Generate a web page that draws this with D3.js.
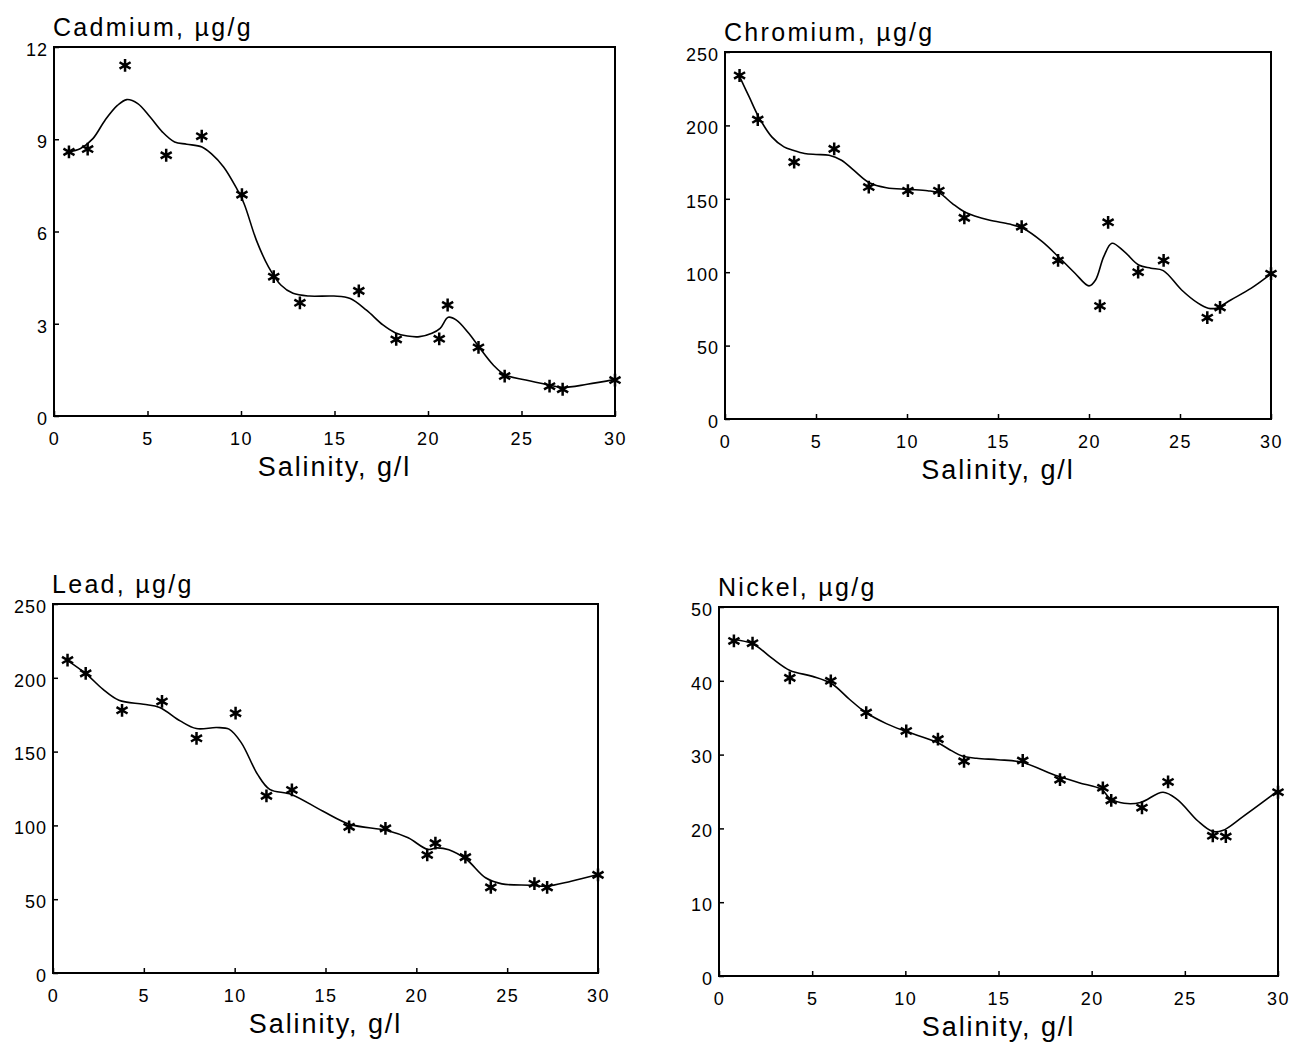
<!DOCTYPE html>
<html>
<head>
<meta charset="utf-8">
<script src="https://cdn.jsdelivr.net/npm/d3@7"></script>
<style>
  html, body { margin: 0; padding: 0; background: #fff; }
  svg { display: block; }
</style>
</head>
<body>
<svg id="chart" width="1292" height="1047"></svg>
<script>
// salinity of the sampling stations (g/l), shared by all four panels
var salinity = [0.8, 1.8, 3.8, 6.0, 7.9, 10.05, 11.75, 13.15, 16.3, 18.3, 20.6, 21.05, 22.7, 24.1, 26.5, 27.2, 30.0];

// measured concentrations (µg/g)
var cadmium  = [8.59, 8.68, 11.40, 8.48, 9.10, 7.20, 4.53, 3.68, 4.07, 2.49, 2.51, 3.61, 2.23, 1.30, 0.97, 0.87, 1.17];
var chromium = [234, 204, 175, 184, 158, 155.5, 155.5, 137, 131, 108, 77, 134, 100, 108, 69, 76, 99];
var lead     = [212, 203, 178, 184, 159, 176, 120, 124, 99, 98, 80, 88, 78.5, 58, 60.5, 58, 66.5];
var nickel   = [45.4, 45.1, 40.4, 40.0, 35.7, 33.2, 32.1, 29.1, 29.2, 26.6, 25.5, 23.8, 22.8, 26.3, 19.0, 18.9, 24.9];

// smoothed curves
var cadmiumFitX = [0.76, 1.42, 2.08, 2.73, 3.39, 3.89, 4.48, 5.13, 5.79, 6.45, 7.10, 7.91, 8.41, 9.07, 9.72, 10.16, 10.82, 11.47, 12.13, 12.78, 13.66, 14.97, 15.84, 16.71, 17.59, 18.24, 18.90, 19.55, 20.21, 20.65, 21.08, 21.52, 22.18, 22.72, 23.49, 24.14, 25.23, 26.48, 27.16, 28.51, 30.0];
var cadmiumFitY = [8.59, 8.70, 9.02, 9.62, 10.10, 10.29, 10.16, 9.73, 9.24, 8.91, 8.84, 8.75, 8.53, 8.10, 7.45, 6.91, 5.72, 4.85, 4.26, 3.99, 3.90, 3.90, 3.82, 3.44, 2.96, 2.71, 2.60, 2.58, 2.69, 2.85, 3.21, 3.12, 2.69, 2.25, 1.66, 1.33, 1.17, 1.01, 0.93, 1.03, 1.19];

var chromiumFitX = [0.81, 1.33, 1.85, 2.57, 3.24, 3.74, 4.37, 5.0, 5.72, 6.40, 7.07, 7.93, 8.87, 10.07, 11.13, 11.80, 12.48, 13.20, 14.50, 15.63, 16.37, 17.43, 18.40, 19.23, 20.0, 20.36, 20.81, 21.26, 21.94, 22.73, 23.40, 24.08, 25.09, 25.99, 26.55, 27.0, 27.79, 28.92, 30.0];
var chromiumFitY = [233, 219.4, 205.8, 192.2, 185.4, 183.1, 180.9, 180.2, 179.7, 176.3, 169.5, 160.9, 157.5, 156.4, 155.5, 153.7, 146.9, 140.8, 135.5, 132.8, 129.9, 120.8, 109.5, 99.3, 90.7, 94.7, 110.6, 119.7, 114.0, 104.9, 102.7, 101.1, 87.9, 78.9, 75.5, 75.5, 81.1, 89.1, 98.8];

var leadFitX = [0.83, 1.84, 2.74, 3.63, 4.98, 5.87, 7.0, 7.89, 9.01, 9.69, 10.36, 11.26, 11.93, 13.12, 14.84, 16.35, 18.39, 19.55, 20.63, 21.12, 21.79, 22.76, 23.81, 24.71, 26.28, 27.17, 28.52, 30.0];
var leadFitY = [211.5, 202.5, 192.3, 184.8, 182.1, 179.9, 170.8, 165.6, 166.3, 165.2, 156.1, 134.6, 124.4, 121.0, 109.7, 100.7, 96.6, 91.6, 83.7, 84.8, 83.5, 76.9, 64.5, 60.4, 59.5, 58.8, 62.2, 66.7];

var nickelFitX = [0.73, 1.83, 2.82, 3.81, 5.02, 6.05, 7.0, 7.88, 8.98, 9.97, 11.66, 12.5, 13.05, 13.82, 14.96, 16.19, 18.17, 19.32, 20.53, 20.97, 21.74, 22.62, 23.83, 24.60, 25.70, 26.47, 27.02, 28.12, 29.95];
var nickelFitY = [45.6, 45.0, 43.1, 41.4, 40.6, 39.6, 37.5, 35.7, 34.2, 33.2, 31.7, 30.5, 29.8, 29.5, 29.3, 29.0, 27.1, 26.2, 25.3, 24.1, 23.4, 23.5, 24.9, 23.9, 21.0, 19.6, 19.7, 21.6, 25.0];

// tick labels
var xTicks = [0, 5, 10, 15, 20, 25, 30];
var cadmiumTicks = [0, 3, 6, 9, 12];
var chromiumTicks = [0, 50, 100, 150, 200, 250];
var leadTicks = [0, 50, 100, 150, 200, 250];
var nickelTicks = [0, 10, 20, 30, 40, 50];

var xLabel = "Salinity, g/l";

var panels = [
  {title: "Cadmium, µg/g",  box: [54, 47, 615, 416],  yMax: 12,  yTicks: cadmiumTicks,  values: cadmium,  fitX: cadmiumFitX,  fitY: cadmiumFitY},
  {title: "Chromium, µg/g", box: [725, 52, 1271, 419], yMax: 250, yTicks: chromiumTicks, values: chromium, fitX: chromiumFitX, fitY: chromiumFitY},
  {title: "Lead, µg/g",     box: [53, 604, 598, 973],  yMax: 250, yTicks: leadTicks,     values: lead,     fitX: leadFitX,     fitY: leadFitY},
  {title: "Nickel, µg/g",   box: [719, 607, 1278, 976], yMax: 50, yTicks: nickelTicks,   values: nickel,   fitX: nickelFitX,   fitY: nickelFitY}
];

var font = "'Liberation Sans', Arial, Helvetica, sans-serif";
var svg = d3.select("#chart");
svg.append("rect").attr("width", 1292).attr("height", 1047).attr("fill", "#fff");

var star = d3.symbol().type(d3.symbolAsterisk).size(115);

panels.forEach(function(p) {
  var left = p.box[0], top = p.box[1], right = p.box[2], bottom = p.box[3];
  var w = right - left, h = bottom - top;

  var x = d3.scaleLinear().domain([0, 30]).range([0, w]);
  var y = d3.scaleLinear().domain([0, p.yMax]).range([h, 0]);

  var g = svg.append("g").attr("transform", "translate(" + left + "," + top + ")");

  // x axis, ticks pointing inward
  var gx = g.append("g")
      .attr("transform", "translate(0," + h + ")")
      .call(d3.axisBottom(x).tickValues(xTicks).tickSize(-5).tickPadding(16));
  gx.select(".domain").remove();
  gx.attr("font-size", 18).attr("font-family", font);
  gx.selectAll("line").attr("stroke", "#000").attr("stroke-width", 1.5);
  gx.selectAll("text").attr("fill", "#000").style("letter-spacing", "1.5px");

  // y axis
  var gy = g.append("g")
      .call(d3.axisLeft(y).tickValues(p.yTicks).tickSize(-5).tickPadding(6));
  gy.select(".domain").remove();
  gy.attr("font-size", 18).attr("font-family", font);
  gy.selectAll("line").attr("stroke", "#000").attr("stroke-width", 1.5);
  gy.selectAll("text").attr("fill", "#000").attr("dy", "0.46em").style("letter-spacing", "1px");

  // frame
  g.append("rect")
      .attr("width", w).attr("height", h)
      .attr("fill", "none")
      .attr("stroke", "#000")
      .attr("stroke-width", 2);

  // smoothed line
  var fit = p.fitX.map(function(v, i) { return {X: v, Y: p.fitY[i]}; });
  var line = d3.line()
      .curve(d3.curveCatmullRom.alpha(0.5))
      .x(function(d) { return x(d.X); })
      .y(function(d) { return y(d.Y); });

  g.append("path")
      .datum(fit)
      .attr("fill", "none")
      .attr("stroke", "#000")
      .attr("stroke-width", 1.6)
      .attr("stroke-linejoin", "round")
      .attr("d", line);

  // measured points as asterisks
  var pts = salinity.map(function(v, i) { return {X: v, Y: p.values[i]}; });
  g.selectAll(".pt")
      .data(pts)
    .enter().append("path")
      .attr("class", "pt")
      .attr("transform", function(d) { return "translate(" + x(d.X) + "," + y(d.Y) + ")"; })
      .attr("d", star)
      .attr("fill", "none")
      .attr("stroke", "#000")
      .attr("stroke-width", 2.5);

  // title above the frame
  g.append("text")
      .attr("x", -1)
      .attr("y", -11)
      .attr("font-family", font)
      .attr("font-size", 25)
      .style("letter-spacing", "2.3px")
      .attr("fill", "#000")
      .text(p.title);

  // x axis title
  g.append("text")
      .attr("x", w / 2)
      .attr("y", h + 60)
      .attr("text-anchor", "middle")
      .attr("font-family", font)
      .attr("font-size", 27)
      .style("letter-spacing", "1.9px")
      .attr("fill", "#000")
      .text(xLabel);
});
</script>
</body>
</html>
